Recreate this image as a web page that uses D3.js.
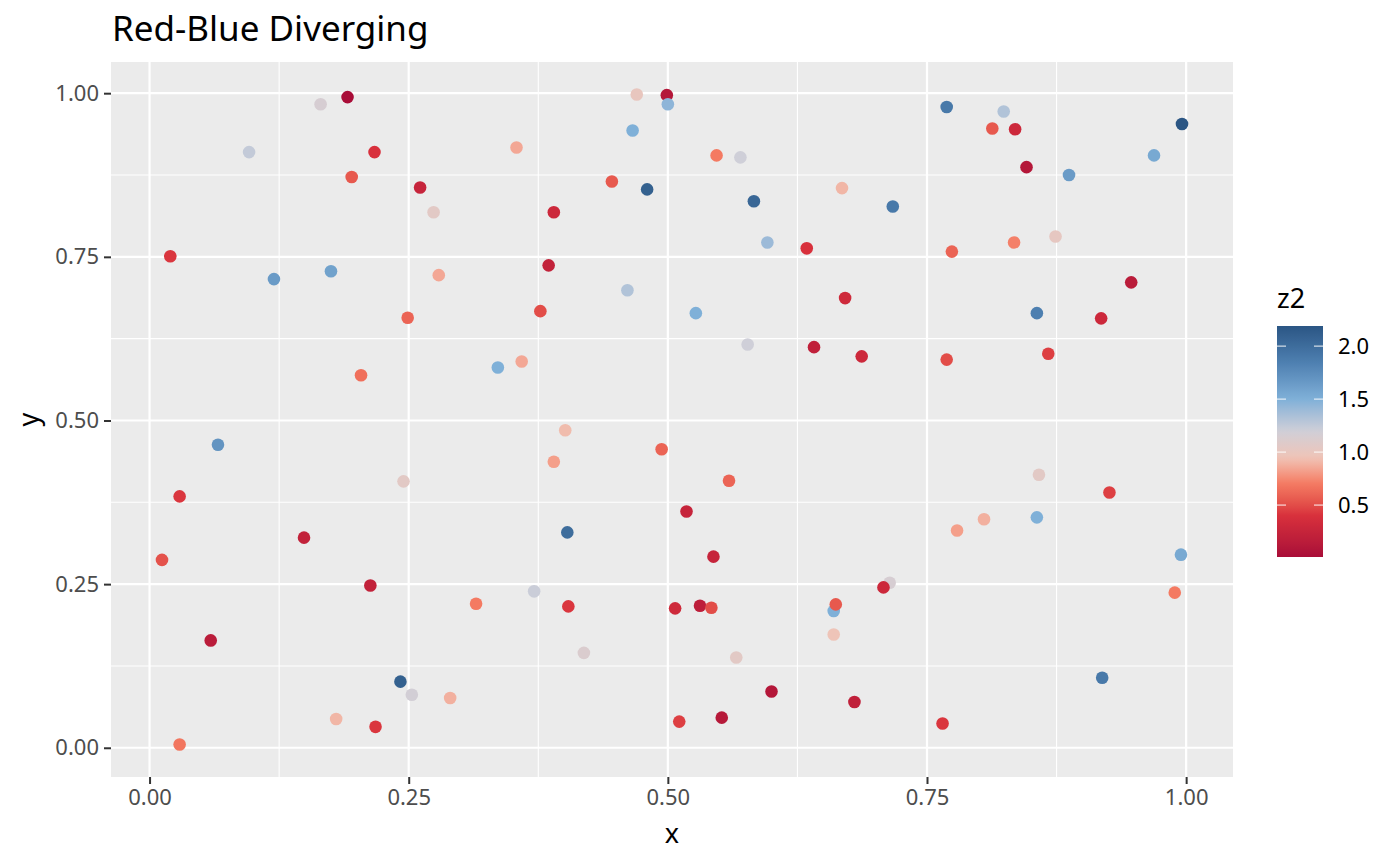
<!DOCTYPE html>
<html>
<head>
<meta charset="utf-8">
<script src="https://cdn.jsdelivr.net/npm/d3@7"></script>
<style>
  body { margin: 0; background: #fff; }
  text { font-family: "Noto Sans", "Open Sans", sans-serif; }
</style>
</head>
<body>
<svg id="chart" width="1400" height="866"></svg>
<script>
// values
const xs = [0.165, 0.191, 0.096, 0.217, 0.195, 0.261, 0.274, 0.020, 0.120, 0.175,
            0.279, 0.249, 0.204, 0.470, 0.499, 0.500, 0.466, 0.354, 0.547, 0.570,
            0.446, 0.480, 0.583, 0.668, 0.390, 0.596, 0.634, 0.385, 0.461, 0.671,
            0.377, 0.527, 0.577, 0.641, 0.687, 0.336, 0.359, 0.401, 0.494, 0.769,
            0.824, 0.813, 0.835, 0.996, 0.846, 0.887, 0.969, 0.717, 0.774, 0.834,
            0.874, 0.947, 0.856, 0.918, 0.769, 0.867, 0.066, 0.245, 0.029, 0.149,
            0.012, 0.213, 0.315, 0.059, 0.242, 0.253, 0.290, 0.180, 0.218, 0.029,
            0.390, 0.559, 0.518, 0.403, 0.544, 0.371, 0.404, 0.507, 0.531, 0.542,
            0.660, 0.662, 0.660, 0.419, 0.566, 0.600, 0.680, 0.552, 0.511, 0.858,
            0.926, 0.779, 0.805, 0.856, 0.995, 0.989, 0.714, 0.708, 0.919, 0.765];
const ys = [0.983, 0.994, 0.910, 0.910, 0.872, 0.856, 0.818, 0.751, 0.716, 0.728,
            0.722, 0.657, 0.569, 0.998, 0.997, 0.983, 0.943, 0.917, 0.905, 0.902,
            0.865, 0.853, 0.835, 0.855, 0.818, 0.772, 0.763, 0.737, 0.699, 0.687,
            0.667, 0.664, 0.616, 0.612, 0.598, 0.581, 0.590, 0.485, 0.456, 0.979,
            0.972, 0.946, 0.945, 0.953, 0.887, 0.875, 0.905, 0.827, 0.758, 0.772,
            0.781, 0.711, 0.664, 0.656, 0.593, 0.602, 0.463, 0.407, 0.384, 0.321,
            0.287, 0.248, 0.220, 0.164, 0.101, 0.081, 0.076, 0.044, 0.032, 0.005,
            0.437, 0.408, 0.361, 0.329, 0.292, 0.239, 0.216, 0.213, 0.217, 0.214,
            0.209, 0.219, 0.173, 0.145, 0.138, 0.086, 0.070, 0.046, 0.040, 0.417,
            0.390, 0.332, 0.349, 0.352, 0.295, 0.237, 0.252, 0.245, 0.107, 0.037];
const z2 = [1.15, 0.01, 1.25, 0.40, 0.55, 0.25, 1.05, 0.42, 1.65, 1.60,
            0.85, 0.60, 0.65, 1.00, 0.10, 1.45, 1.50, 0.85, 0.70, 1.20,
            0.55, 2.10, 2.05, 0.90, 0.30, 1.40, 0.40, 0.22, 1.32, 0.32,
            0.50, 1.50, 1.20, 0.20, 0.30, 1.50, 0.85, 0.92, 0.60, 1.90,
            1.32, 0.55, 0.30, 2.19, 0.10, 1.65, 1.55, 1.90, 0.60, 0.72,
            1.02, 0.15, 1.85, 0.30, 0.50, 0.45, 1.70, 1.05, 0.42, 0.22,
            0.52, 0.22, 0.70, 0.15, 2.10, 1.18, 0.88, 0.90, 0.42, 0.68,
            0.82, 0.60, 0.25, 2.00, 0.25, 1.22, 0.42, 0.32, 0.18, 0.50,
            1.50, 0.55, 0.95, 1.12, 1.05, 0.10, 0.20, 0.12, 0.45, 1.05,
            0.45, 0.82, 0.88, 1.50, 1.55, 0.70, 1.15, 0.30, 1.90, 0.42];
const xTicks = [0, 0.25, 0.5, 0.75, 1];
const yTicks = [0, 0.25, 0.5, 0.75, 1];
const legendTicks = [0.5, 1.0, 1.5, 2.0];
const paletteStops = [0, 0.4, 0.7, 0.95, 1.2, 1.5, 1.85, 2.19];
const paletteColors = ["#a80c38", "#d8303c", "#f47a62", "#eec4b8",
                       "#cfcfd8", "#7fb0d8", "#4d7fb0", "#2b5684"];

const points = xs.map((x, i) => ({x: x, y: ys[i], z: z2[i]}));

const svg = d3.select("#chart");
const panel = {left: 111, top: 62, right: 1233, bottom: 777};

// ggplot-style 5% expansion
function expand(ext) {
  const pad = (ext[1] - ext[0]) * 0.05;
  return [ext[0] - pad, ext[1] + pad];
}
const x = d3.scaleLinear().domain(expand(d3.extent(xs))).range([panel.left, panel.right]);
const y = d3.scaleLinear().domain(expand(d3.extent(ys))).range([panel.bottom, panel.top]);
const zExt = d3.extent(z2);
const color = d3.scaleLinear().domain(paletteStops).range(paletteColors)
  .interpolate(d3.interpolateLab).clamp(true);

// panel background
svg.append("rect")
  .attr("x", panel.left).attr("y", panel.top)
  .attr("width", panel.right - panel.left).attr("height", panel.bottom - panel.top)
  .attr("fill", "#ebebeb");

// grid: minor then major
const minor = xTicks.slice(0, -1).map(d => d + 0.125);
const grid = svg.append("g");
grid.selectAll(".vmin").data(minor).join("line")
  .attr("x1", d => x(d)).attr("x2", d => x(d))
  .attr("y1", panel.top).attr("y2", panel.bottom)
  .attr("stroke", "#fff").attr("stroke-width", 1.1);
grid.selectAll(".hmin").data(yTicks.slice(0, -1).map(d => d + 0.125)).join("line")
  .attr("y1", d => y(d)).attr("y2", d => y(d))
  .attr("x1", panel.left).attr("x2", panel.right)
  .attr("stroke", "#fff").attr("stroke-width", 1.1);
grid.selectAll(".vmaj").data(xTicks).join("line")
  .attr("x1", d => x(d)).attr("x2", d => x(d))
  .attr("y1", panel.top).attr("y2", panel.bottom)
  .attr("stroke", "#fff").attr("stroke-width", 2.2);
grid.selectAll(".hmaj").data(yTicks).join("line")
  .attr("y1", d => y(d)).attr("y2", d => y(d))
  .attr("x1", panel.left).attr("x2", panel.right)
  .attr("stroke", "#fff").attr("stroke-width", 2.2);

// points
svg.append("g").selectAll("circle").data(points).join("circle")
  .attr("cx", d => x(d.x)).attr("cy", d => y(d.y))
  .attr("r", 6.3)
  .attr("fill", d => color(d.z));

// axes
const xAxis = d3.axisBottom(x).tickValues(xTicks).tickFormat(d3.format(".2f"))
  .tickSizeInner(7).tickSizeOuter(0).tickPadding(5);
const yAxis = d3.axisLeft(y).tickValues(yTicks).tickFormat(d3.format(".2f"))
  .tickSizeInner(7).tickSizeOuter(0).tickPadding(5);

function styleAxis(g) {
  g.select(".domain").remove();
  g.selectAll(".tick line").attr("stroke", "#333").attr("stroke-width", 2);
  g.selectAll(".tick text").attr("fill", "#4d4d4d").style("font-size", "22px");
}
svg.append("g").attr("transform", `translate(0,${panel.bottom})`).call(xAxis).call(styleAxis);
svg.append("g").attr("transform", `translate(${panel.left},0)`).call(yAxis).call(styleAxis);

// titles
svg.append("text").attr("x", 112).attr("y", 41)
  .style("font-size", "35px").attr("fill", "#000").text("Red-Blue Diverging");
svg.append("text").attr("x", (panel.left + panel.right) / 2).attr("y", 843)
  .attr("text-anchor", "middle").style("font-size", "27px").attr("fill", "#000").text("x");
svg.append("text").attr("transform", `translate(38,${(panel.top + panel.bottom) / 2}) rotate(-90)`)
  .attr("text-anchor", "middle").style("font-size", "27px").attr("fill", "#000").text("y");

// colourbar legend
const bar = {x: 1277, y: 326, w: 46, h: 231};
const zScale = d3.scaleLinear().domain(zExt).range([bar.y + bar.h, bar.y]);
const grad = svg.append("defs").append("linearGradient")
  .attr("id", "zgrad").attr("x1", 0).attr("y1", 1).attr("x2", 0).attr("y2", 0);
grad.selectAll("stop").data(d3.range(0, 1.0001, 0.02)).join("stop")
  .attr("offset", d => d)
  .attr("stop-color", d => color(zExt[0] + d * (zExt[1] - zExt[0])));
svg.append("rect").attr("x", bar.x).attr("y", bar.y)
  .attr("width", bar.w).attr("height", bar.h).attr("fill", "url(#zgrad)");

const lt = svg.append("g");
lt.selectAll(".tl").data(legendTicks).join("line")
  .attr("x1", bar.x).attr("x2", bar.x + 9)
  .attr("y1", d => zScale(d)).attr("y2", d => zScale(d))
  .attr("stroke", "#fff").attr("stroke-width", 1.2).attr("opacity", 0.8);
lt.selectAll(".tr").data(legendTicks).join("line")
  .attr("x1", bar.x + bar.w - 9).attr("x2", bar.x + bar.w)
  .attr("y1", d => zScale(d)).attr("y2", d => zScale(d))
  .attr("stroke", "#fff").attr("stroke-width", 1.2).attr("opacity", 0.8);
lt.selectAll("text").data(legendTicks).join("text")
  .attr("x", 1338).attr("y", d => zScale(d)).attr("dy", "0.35em")
  .style("font-size", "22px").attr("fill", "#000").text(d3.format(".1f"));

svg.append("text").attr("x", 1277).attr("y", 308)
  .style("font-size", "27px").attr("fill", "#000").text("z2");
</script>
</body>
</html>
